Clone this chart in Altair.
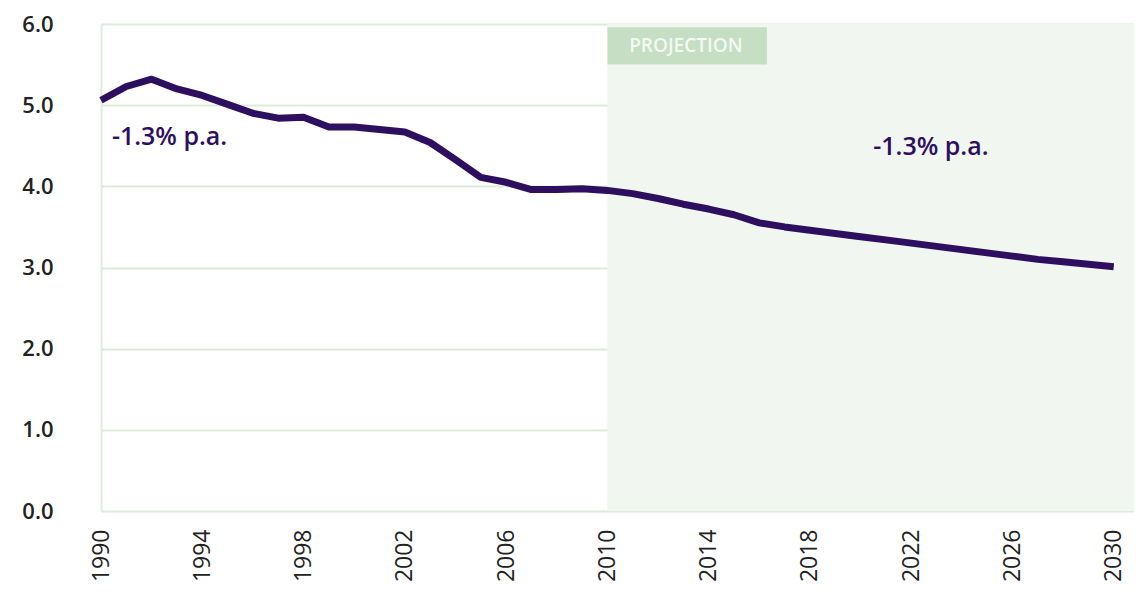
import altair as alt
import pandas as pd

years = list(range(1990, 2031))
values = [5.06, 5.23, 5.32, 5.20, 5.12, 5.01, 4.90, 4.84, 4.85, 4.73,
          4.73, 4.70, 4.67, 4.54, 4.33, 4.11, 4.05, 3.96, 3.96, 3.97,
          3.95, 3.91, 3.85, 3.78, 3.72, 3.65, 3.55, 3.50, 3.46, 3.42,
          3.38, 3.34, 3.30, 3.26, 3.22, 3.18, 3.14, 3.10, 3.07, 3.04, 3.01]
y_ticks = [0, 1, 2, 3, 4, 5, 6]
x_ticks = [1990, 1994, 1998, 2002, 2006, 2010, 2014, 2018, 2022, 2026, 2030]
proj_start = 2010
proj_end = 2030.8
rate_labels = ["-1.3% p.a.", "-1.3% p.a."]
rate_x = [1990.43, 2020.5]
rate_y = [4.61, 4.48]

FONT = "Open Sans"
PURPLE = "#2e0f5f"

df = pd.DataFrame({"year": years, "value": values})

xscale = alt.Scale(domain=[1990, 2030.8], nice=False, zero=False)
yscale = alt.Scale(domain=[0, 6], nice=False)

x_axis = alt.Axis(
    values=x_ticks, format="d", labelAngle=270, labelFont=FONT, labelFontSize=23,
    labelColor="#222222", labelPadding=18, ticks=False, domain=False, grid=False,
    title=None, labelBaseline="middle", labelAlign="right")
y_axis = alt.Axis(
    values=y_ticks, format=".1f", labelFont=FONT, labelFontSize=22, labelFontWeight=600,
    labelColor="#222222", labelPadding=48, ticks=False, domain=True, domainColor="#dcebdc",
    domainWidth=2, grid=True, gridColor="#dcebdc", gridWidth=2, title=None)

def X(field):
    return alt.X(field, scale=xscale, axis=x_axis, title=None)

def Y(field):
    return alt.Y(field, scale=yscale, axis=y_axis, title=None)

proj_df = pd.DataFrame({"x": [proj_start], "x2": [proj_end], "y": [0], "y2": [6]})
proj_bg = alt.Chart(proj_df).mark_rect(color="#f1f6f0").encode(
    x=X("x:Q"), x2="x2:Q", y=Y("y:Q"), y2="y2:Q",
)

box_df = pd.DataFrame({"x": [proj_start], "x2": [2016.3], "y": [5.5], "y2": [5.96]})
proj_box = alt.Chart(box_df).mark_rect(color="#c5dec4").encode(
    x=X("x:Q"), x2="x2:Q", y=Y("y:Q"), y2="y2:Q",
)

box_text_df = pd.DataFrame({"x": [2013.1], "y": [5.73], "t": ["PROJECTION"]})
proj_text = alt.Chart(box_text_df).mark_text(
    color="#f4f9f3", font=FONT, fontSize=19, fontWeight=600, align="center", baseline="middle"
).encode(x=X("x:Q"), y=Y("y:Q"), text="t:N")

line = alt.Chart(df).mark_line(color=PURPLE, strokeWidth=7, strokeJoin="round", strokeCap="butt").encode(
    x=X("year:Q"), y=Y("value:Q"),
)

rate_df = pd.DataFrame({"x": rate_x, "y": rate_y, "t": rate_labels})
rate_text = alt.Chart(rate_df).mark_text(
    color=PURPLE, font=FONT, fontSize=25, fontWeight=600, align="left", baseline="middle"
).encode(x=X("x:Q"), y=Y("y:Q"), text="t:N")

chart = alt.layer(proj_bg, proj_box, proj_text, line, rate_text).properties(
    width=1033, height=487,
    autosize=alt.AutoSizeParams(type="none"),
    padding={"left": 93, "top": 16, "right": 0, "bottom": 76},
).configure_view(strokeWidth=0, stroke="transparent").configure(background="white")

chart.save("out.html", embed_options={"renderer": "svg", "actions": False})
